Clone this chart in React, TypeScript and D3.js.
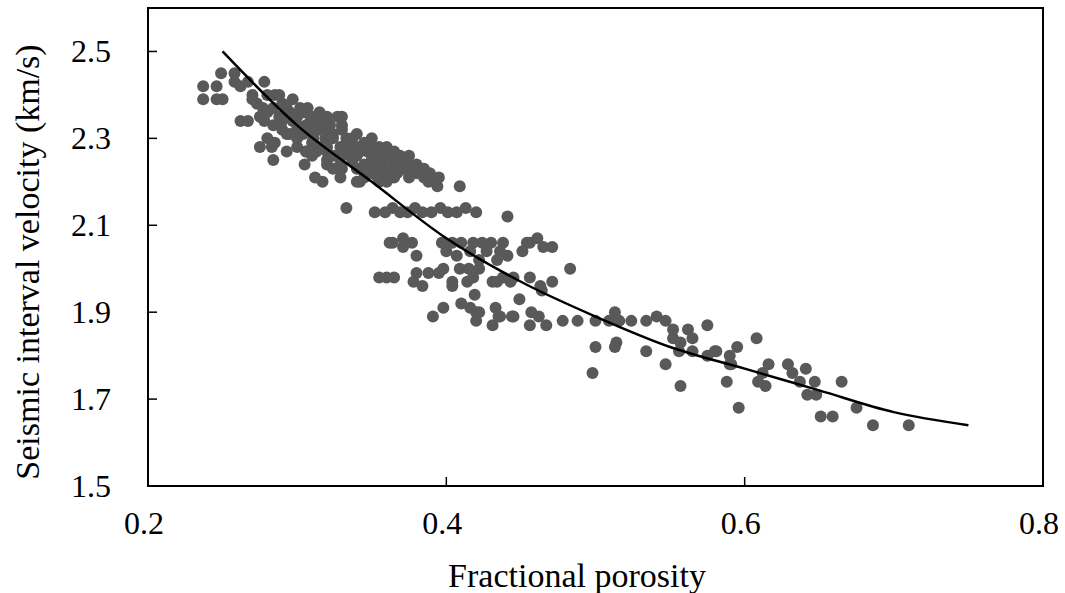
import React from "react";
import * as d3 from "d3";

const porosity: number[] = [
  0.237,0.246,0.237,0.246,0.250,0.249,0.258,0.258,0.262,0.267,0.278,0.270,0.280,0.285,0.288,0.297,0.273,0.277,0.284,0.293,
  0.275,0.262,0.267,0.278,0.284,0.288,0.295,0.302,0.307,0.315,0.330,0.327,0.297,0.300,0.293,0.304,0.311,0.320,0.324,0.319,
  0.275,0.283,0.285,0.293,0.284,0.300,0.305,0.306,0.312,0.317,0.313,0.320,0.329,0.340,0.329,0.337,0.333,0.337,0.329,0.349,
  0.351,0.355,0.360,0.369,0.371,0.380,0.364,0.389,0.394,0.349,0.342,0.324,0.320,0.342,0.311,0.306,0.290,0.270,
  0.367,0.375,0.384,0.354,0.342,0.387,0.374,0.364,0.355,0.347,0.335,0.324,0.315,0.309,0.322,0.347,0.337,0.357,0.306,0.409,0.388,
  0.28,0.29,0.29,0.30,0.30,0.31,0.31,0.31,0.32,0.32,0.32,0.33,0.33,0.33,0.34,0.34,0.34,0.34,0.35,0.35,0.35,0.36,0.36,0.36,
  0.37,0.37,0.38,0.38,0.385,0.30,0.29,0.28,0.31,0.32,0.33,0.305,0.315,0.295,
  0.345,0.355,0.365,0.375,0.345,0.36,0.325,0.315,0.335,0.345,0.355,0.365,0.375,0.385,0.395,
  0.333,0.352,0.359,0.364,0.369,0.374,0.379,0.384,0.390,0.396,0.401,0.407,0.413,0.420,0.441,
  0.364,0.371,0.377,0.371,0.380,0.362,0.397,0.404,0.410,0.418,0.424,0.430,0.438,0.400,0.407,0.416,0.427,0.436,0.441,0.434,
  0.422,0.454,0.451,0.461,0.465,0.471,0.456,
  0.355,0.360,0.365,0.380,0.378,0.384,0.388,0.395,0.398,0.404,0.404,0.409,0.415,0.414,0.418,0.419,0.422,0.431,0.438,0.445,
  0.456,0.463,0.471,0.483,0.449,
  0.391,0.398,0.410,0.416,0.420,0.420,0.433,0.431,0.436,0.445,0.457,0.456,0.462,0.467,0.478,0.488,0.500,0.500,
  0.434,0.443,0.464,0.444,0.422,0.435,
  0.509,0.513,0.516,0.524,0.534,0.541,0.547,0.552,0.552,0.557,0.556,0.565,0.562,0.565,0.575,0.575,0.581,0.590,0.590,0.595,
  0.608,0.588,0.596,0.616,0.612,0.609,0.614,0.514,0.513,0.534,0.547,0.557,0.498,0.580,
  0.629,0.632,0.637,0.641,0.647,0.642,0.648,0.651,0.659,0.665,0.675,0.686,0.710,0.591,
];

const velocity: number[] = [
  2.42,2.42,2.39,2.39,2.39,2.45,2.45,2.43,2.42,2.43,2.43,2.40,2.40,2.40,2.40,2.39,2.38,2.37,2.37,2.37,
  2.35,2.34,2.34,2.34,2.33,2.35,2.36,2.37,2.37,2.36,2.35,2.35,2.34,2.32,2.31,2.31,2.33,2.33,2.31,2.30,
  2.28,2.28,2.29,2.27,2.25,2.28,2.24,2.27,2.21,2.20,2.27,2.27,2.21,2.20,2.24,2.25,2.30,2.30,2.28,2.28,
  2.26,2.20,2.27,2.26,2.24,2.24,2.23,2.22,2.19,2.23,2.23,2.23,2.24,2.27,2.30,2.33,2.34,2.39,
  2.22,2.22,2.22,2.21,2.20,2.21,2.24,2.25,2.26,2.27,2.29,2.30,2.32,2.34,2.33,2.29,2.25,2.23,2.27,2.19,2.20,
  2.36,2.38,2.35,2.35,2.33,2.35,2.32,2.29,2.31,2.28,2.35,2.32,2.26,2.33,2.31,2.28,2.26,2.23,2.25,2.22,2.30,2.28,2.25,2.22,
  2.23,2.25,2.22,2.23,2.21,2.30,2.32,2.30,2.26,2.25,2.23,2.36,2.34,2.31,
  2.24,2.24,2.21,2.21,2.21,2.20,2.26,2.28,2.27,2.29,2.28,2.27,2.26,2.23,2.21,
  2.14,2.13,2.13,2.14,2.13,2.13,2.14,2.13,2.13,2.14,2.13,2.13,2.14,2.13,2.12,
  2.06,2.07,2.06,2.05,2.03,2.06,2.06,2.06,2.06,2.06,2.06,2.06,2.06,2.04,2.03,2.04,2.04,2.04,2.03,2.02,
  2.02,2.06,2.04,2.07,2.05,2.05,2.06,
  1.98,1.98,1.98,1.99,1.97,1.96,1.99,1.99,2.00,1.97,1.96,2.00,2.00,1.97,1.98,1.94,2.00,1.97,1.98,1.98,
  1.98,1.96,1.97,2.00,1.93,
  1.89,1.91,1.92,1.91,1.88,1.90,1.91,1.87,1.89,1.89,1.90,1.87,1.89,1.87,1.88,1.88,1.88,1.82,
  1.97,1.97,1.95,1.89,1.90,1.89,
  1.88,1.90,1.88,1.88,1.88,1.89,1.88,1.86,1.84,1.83,1.81,1.81,1.86,1.84,1.87,1.80,1.81,1.80,1.78,1.82,
  1.84,1.74,1.68,1.78,1.76,1.74,1.73,1.83,1.82,1.81,1.78,1.73,1.76,1.81,
  1.78,1.76,1.74,1.77,1.74,1.71,1.71,1.66,1.66,1.74,1.68,1.64,1.64,1.78,
];

const trendPorosity: number[] = [0.25, 0.30, 0.35, 0.40, 0.45, 0.50, 0.55, 0.60, 0.65, 0.70, 0.75];
const trendVelocity: number[] = [2.50, 2.33, 2.20, 2.07, 1.97, 1.89, 1.82, 1.77, 1.72, 1.67, 1.64];

const xTicks: number[] = [0.2, 0.4, 0.6, 0.8];
const yTicks: number[] = [1.5, 1.7, 1.9, 2.1, 2.3, 2.5];
const xTitle = "Fractional porosity";
const yTitle = "Seismic interval velocity (km/s)";

export default function App() {
  const W = 1065, H = 593;
  const left = 148, right = 1043, top = 8, bottom = 486;
  const x = d3.scaleLinear().domain([0.2, 0.8]).range([left, right]);
  const y = d3.scaleLinear().domain([1.5, 2.6]).range([bottom, top]);
  const pts = porosity.map((p, i) => [p, velocity[i]] as [number, number]);
  const trend = trendPorosity.map((p, i) => [p, trendVelocity[i]] as [number, number]);
  const line = d3
    .line<[number, number]>()
    .x((d) => x(d[0]))
    .y((d) => y(d[1]))
    .curve(d3.curveMonotoneX);
  const font = "'Liberation Serif', 'Times New Roman', serif";
  return (
    <svg
      width={W}
      height={H}
      style={{ position: "absolute", left: 0, top: 0, background: "#fff" }}
    >
      <rect x={0} y={0} width={W} height={H} fill="#fff" />
      {pts.map((d, i) => (
        <circle key={i} cx={x(d[0])} cy={y(d[1])} r={6} fill="#595959" />
      ))}
      <path d={line(trend) || ""} fill="none" stroke="#000" strokeWidth={2.5} />
      <rect
        x={left}
        y={top}
        width={right - left}
        height={bottom - top}
        fill="none"
        stroke="#000"
        strokeWidth={2}
      />
      {yTicks.map((t) => (
        <g key={"y" + t}>
          <line x1={left} x2={left + 9} y1={y(t)} y2={y(t)} stroke="#000" strokeWidth={1.5} />
          <text
            x={left - 37}
            y={y(t)}
            textAnchor="end"
            dominantBaseline="central"
            fontFamily={font}
            fontSize={32}
            fill="#000"
          >
            {t.toFixed(1)}
          </text>
        </g>
      ))}
      {xTicks.map((t) => (
        <g key={"x" + t}>
          <line x1={x(t)} x2={x(t)} y1={bottom} y2={bottom - 9} stroke="#000" strokeWidth={1.5} />
          <text
            x={x(t) - 4}
            y={523}
            textAnchor="middle"
            dominantBaseline="central"
            fontFamily={font}
            fontSize={32}
            fill="#000"
          >
            {t.toFixed(1)}
          </text>
        </g>
      ))}
      <text
        x={577}
        y={575}
        textAnchor="middle"
        dominantBaseline="central"
        fontFamily={font}
        fontSize={34}
        fill="#000"
      >
        {xTitle}
      </text>
      <text
        transform={`translate(27, 262) rotate(-90)`}
        textAnchor="middle"
        dominantBaseline="central"
        fontFamily={font}
        fontSize={34}
        fill="#000"
      >
        {yTitle}
      </text>
    </svg>
  );
}
